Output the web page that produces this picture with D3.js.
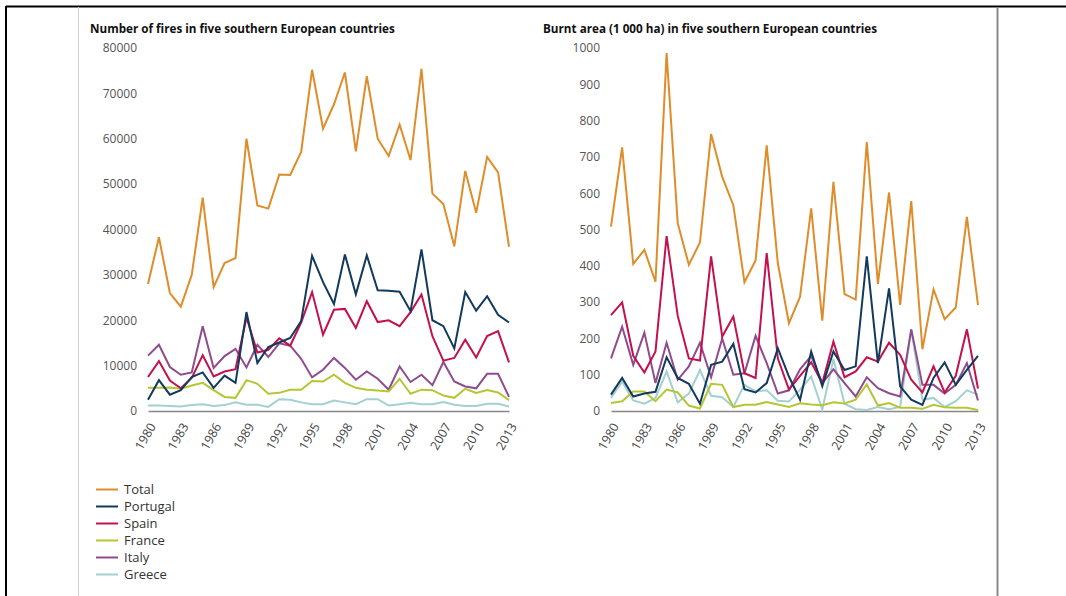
<!DOCTYPE html>
<html>
<head>
<meta charset="utf-8">
<script src="https://cdn.jsdelivr.net/npm/d3@7"></script>
<style>
  html, body { margin: 0; padding: 0; background: #fff; }
  svg { display: block; }
  text { font-family: "Open Sans", "DejaVu Sans", sans-serif; }
</style>
</head>
<body>
<svg id="chart" width="1066" height="596"></svg>
<script>
// ---------- data ----------
const years = d3.range(1980, 2014);
const seriesNames = ["Total", "Portugal", "Spain", "France", "Italy", "Greece"];
const seriesColors = ["#df8c2a", "#123a5c", "#c3114e", "#b5c634", "#8f4b8d", "#a3d0d0"];

// Number of fires
const firesTotal = [28000, 38300, 26000, 23000, 30000, 47000, 27300, 32600, 33700, 60000, 45300, 44600, 52100, 52000, 57100, 75200, 62200, 67600, 74600, 57200, 73800, 60000, 56200, 63100, 55300, 75400, 47900, 45600, 36300, 52900, 43700, 56000, 52600, 36200];
const firesPortugal = [2500, 6800, 3600, 4600, 7500, 8500, 5100, 7800, 6200, 21800, 10600, 14100, 15100, 16100, 19800, 34200, 28400, 23600, 34500, 25700, 34300, 26600, 26500, 26300, 22000, 35600, 20000, 18700, 13800, 26200, 22100, 25300, 21200, 19500];
const firesSpain = [7500, 11000, 6700, 5000, 7300, 12300, 7600, 8700, 9200, 20600, 12900, 13500, 16000, 14400, 19500, 26200, 16800, 22300, 22500, 18300, 24200, 19600, 20000, 18700, 21800, 25700, 16500, 11100, 11700, 15700, 11800, 16500, 17600, 10700];
const firesFrance = [5100, 5100, 5200, 4900, 5600, 6200, 4600, 3100, 2900, 6800, 6000, 3800, 4000, 4700, 4700, 6600, 6500, 8000, 6200, 5100, 4700, 4500, 4300, 7100, 3800, 4700, 4600, 3400, 2900, 4900, 4000, 4600, 4100, 2400];
const firesItaly = [12200, 14600, 9700, 8000, 8500, 18700, 9500, 12100, 13700, 9600, 14600, 11900, 14900, 14400, 11500, 7400, 9100, 11700, 9500, 6900, 8700, 7100, 4700, 9800, 6400, 8000, 5700, 10800, 6500, 5400, 5000, 8200, 8200, 3100];
const firesGreece = [1200, 1200, 1100, 1000, 1300, 1500, 1100, 1300, 1900, 1400, 1400, 900, 2600, 2500, 1900, 1500, 1500, 2300, 1900, 1500, 2600, 2600, 1200, 1500, 1800, 1500, 1500, 2000, 1400, 1100, 1100, 1600, 1600, 1000];

// Burnt area (1 000 ha)
const areaTotal = [508, 726, 405, 444, 356, 986, 517, 403, 464, 763, 645, 567, 355, 415, 732, 407, 242, 315, 558, 249, 631, 322, 307, 741, 350, 602, 292, 578, 170, 335, 253, 285, 535, 292];
const areaPortugal = [45, 91, 40, 48, 53, 148, 91, 75, 20, 127, 136, 185, 60, 51, 77, 173, 95, 31, 164, 68, 164, 113, 123, 426, 132, 338, 68, 31, 17, 91, 134, 72, 113, 152];
const areaSpain = [264, 299, 152, 106, 164, 482, 262, 145, 139, 426, 205, 260, 104, 91, 435, 145, 59, 97, 134, 77, 191, 93, 109, 148, 136, 188, 155, 86, 51, 123, 51, 97, 225, 62];
const areaFrance = [22, 27, 54, 54, 27, 59, 51, 15, 7, 75, 72, 11, 17, 17, 25, 18, 11, 21, 18, 16, 24, 21, 31, 73, 15, 22, 9, 9, 6, 17, 10, 9, 9, 3];
const areaItaly = [145, 232, 127, 216, 77, 188, 86, 123, 188, 93, 200, 100, 104, 207, 132, 48, 57, 115, 152, 77, 115, 77, 40, 93, 63, 49, 40, 225, 72, 72, 48, 72, 132, 29];
const areaGreece = [36, 81, 29, 20, 36, 109, 24, 48, 113, 42, 38, 11, 72, 54, 57, 28, 26, 59, 95, 4, 143, 20, 5, 3, 11, 5, 11, 225, 31, 36, 11, 27, 57, 45];

const firesTicks = [0, 10000, 20000, 30000, 40000, 50000, 60000, 70000, 80000];
const areaTicks = [0, 100, 200, 300, 400, 500, 600, 700, 800, 900, 1000];
const yearTicks = d3.range(1980, 2014, 3);

const titles = ["Number of fires in five southern European countries",
                "Burnt area (1 000 ha) in five southern European countries"];

// ---------- drawing ----------
const svg = d3.select("#chart");

// frame
svg.append("line").attr("x1", 6).attr("x2", 1066).attr("y1", 6.5).attr("y2", 6.5)
  .attr("stroke", "#000").attr("stroke-width", 2);
svg.append("line").attr("x1", 6).attr("x2", 6).attr("y1", 6).attr("y2", 596)
  .attr("stroke", "#000").attr("stroke-width", 2);
svg.append("line").attr("x1", 78.5).attr("x2", 78.5).attr("y1", 7).attr("y2", 596)
  .attr("stroke", "#cfcfcf").attr("stroke-width", 1);
svg.append("line").attr("x1", 997.5).attr("x2", 997.5).attr("y1", 7).attr("y2", 596)
  .attr("stroke", "#8a8a8a").attr("stroke-width", 2);

function drawPanel(cfg) {
  const g = svg.append("g");
  const x = d3.scaleLinear().domain([1980, 2013]).range(cfg.xr);
  const y = d3.scaleLinear().domain([0, cfg.ymax]).range([411, 48]);

  g.append("text").attr("x", cfg.titleX).attr("y", 33)
    .attr("font-size", 11.7).attr("font-weight", "bold").attr("fill", "#111")
    .text(cfg.title);

  // y axis labels
  const ya = d3.axisLeft(y).tickValues(cfg.yticks).tickSize(0).tickPadding(11)
    .tickFormat(d3.format("d"));
  const yg = g.append("g").attr("transform", `translate(${cfg.xr[0]},0)`).call(ya);
  yg.select(".domain").remove();
  yg.selectAll("text").attr("font-size", 12).attr("fill", "#555")
    .style("font-family", '"Open Sans", sans-serif');

  // x axis
  const xa = d3.axisBottom(x).tickValues(yearTicks).tickSize(0).tickPadding(0)
    .tickFormat(d3.format("d"));
  const xg = g.append("g").attr("transform", "translate(0,411)").call(xa);
  xg.select(".domain").attr("stroke", "#888").attr("stroke-width", 1.5);
  xg.selectAll("text").attr("font-size", 12.5).attr("fill", "#444")
    .style("font-family", '"Open Sans", sans-serif')
    .attr("text-anchor", "end")
    .attr("dy", "0.35em")
    .attr("transform", "translate(4,13) rotate(-60)");

  const line = d3.line().x((d, i) => x(years[i])).y(d => y(d));
  const order = [5, 4, 3, 2, 1, 0];
  order.forEach(k => {
    g.append("path").datum(cfg.series[k])
      .attr("fill", "none").attr("stroke", seriesColors[k])
      .attr("stroke-width", 2).attr("stroke-linejoin", "miter")
      .attr("d", line);
  });
}

drawPanel({
  xr: [148, 509], ymax: 80000, yticks: firesTicks, title: titles[0], titleX: 90,
  series: [firesTotal, firesPortugal, firesSpain, firesFrance, firesItaly, firesGreece]
});
drawPanel({
  xr: [611, 978], ymax: 1000, yticks: areaTicks, title: titles[1], titleX: 543,
  series: [areaTotal, areaPortugal, areaSpain, areaFrance, areaItaly, areaGreece]
});

// legend
const leg = svg.append("g");
seriesNames.forEach((n, i) => {
  const yy = 489.5 + i * 17;
  leg.append("line").attr("x1", 96).attr("x2", 118).attr("y1", yy).attr("y2", yy)
    .attr("stroke", seriesColors[i]).attr("stroke-width", 2);
  leg.append("text").attr("x", 124).attr("y", yy).attr("dy", "0.35em")
    .attr("font-size", 13).attr("fill", "#333").text(n);
});
</script>
</body>
</html>
